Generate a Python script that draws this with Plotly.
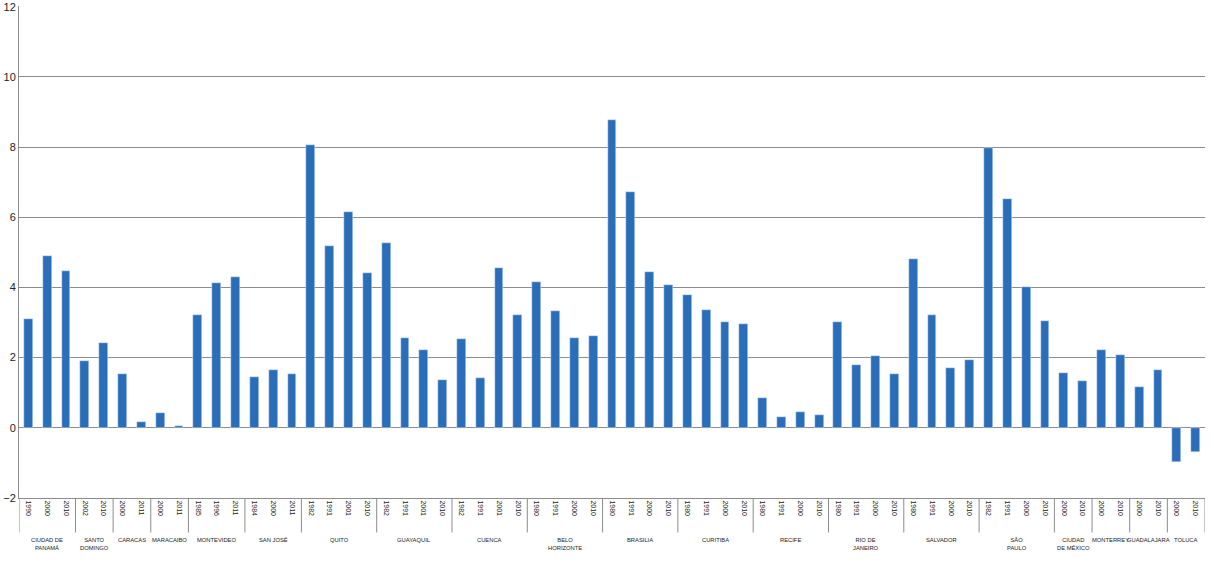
import plotly.graph_objects as go

# cities and their census years
cities = ["CIUDAD DE<br>PANAMÁ", "SANTO<br>DOMINGO", "CARACAS", "MARACAIBO", "MONTEVIDEO",
          "SAN JOSÉ", "QUITO", "GUAYAQUIL", "CUENCA", "BELO<br>HORIZONTE", "BRASILIA",
          "CURITIBA", "RECIFE", "RIO DE<br>JANEIRO", "SALVADOR", "SÃO<br>PAULO",
          "CIUDAD<br>DE MÉXICO", "MONTERREY", "GUADALAJARA", "TOLUCA"]
years = [
    ["1990", "2000", "2010"],
    ["2002", "2010"],
    ["2000", "2011"],
    ["2000", "2011"],
    ["1985", "1996", "2011"],
    ["1984", "2000", "2011"],
    ["1982", "1991", "2001", "2010"],
    ["1982", "1991", "2001", "2010"],
    ["1982", "1991", "2001", "2010"],
    ["1980", "1991", "2000", "2010"],
    ["1980", "1991", "2000", "2010"],
    ["1980", "1991", "2000", "2010"],
    ["1980", "1991", "2000", "2010"],
    ["1980", "1991", "2000", "2010"],
    ["1980", "1991", "2000", "2010"],
    ["1982", "1991", "2000", "2010"],
    ["2000", "2010"],
    ["2000", "2010"],
    ["2000", "2010"],
    ["2000", "2010"],
]
values = [
    [3.10, 4.89, 4.46],
    [1.90, 2.41],
    [1.53, 0.17],
    [0.43, 0.06],
    [3.21, 4.12, 4.29],
    [1.45, 1.65, 1.53],
    [8.07, 5.17, 6.14, 4.40],
    [5.28, 2.56, 2.22, 1.36],
    [2.53, 1.42, 4.55, 3.21],
    [4.15, 3.32, 2.56, 2.61],
    [8.78, 6.73, 4.43, 4.06],
    [3.78, 3.35, 3.01, 2.95],
    [0.85, 0.31, 0.45, 0.37],
    [3.01, 1.79, 2.05, 1.53],
    [4.80, 3.21, 1.70, 1.93],
    [7.98, 6.51, 4.01, 3.04],
    [1.56, 1.34],
    [2.22, 2.07],
    [1.16, 1.65],
    [-0.97, -0.68],
]

xs, ys, labels = [], [], []
bounds = [-0.5]
starts = []
i = 0
for yr, vals in zip(years, values):
    starts.append(i)
    for y_, v in zip(yr, vals):
        xs.append(i)
        ys.append(v)
        labels.append(y_)
        i += 1
    bounds.append(i - 0.5)

fig = go.Figure()
fig.add_trace(go.Bar(x=xs, y=ys, marker_color="#2A6EBA", width=0.47))

# group separators below the axis
for b in bounds:
    fig.add_shape(type="line", xref="x", yref="paper", x0=b, x1=b, y0=0, y1=-0.07,
                  line=dict(color="#8c8c8c", width=1))

# city labels
for c, s, yr in zip(cities, starts, years):
    mid = s + (len(yr) - 1) / 2
    fig.add_annotation(x=mid, y=-0.075, xref="x", yref="paper", text=c, showarrow=False,
                       yanchor="top", font=dict(family="Liberation Sans", size=5.8, color="#222"))

fig.update_layout(
    width=1214, height=564,
    margin=dict(l=19, r=9, t=6, b=66),
    plot_bgcolor="white", paper_bgcolor="white",
    showlegend=False, bargap=0,
)
fig.update_xaxes(
    range=[-0.5, len(xs) - 0.5], tickmode="array", tickvals=xs, ticktext=labels,
    tickangle=90, tickfont=dict(family="Liberation Sans", size=7, color="#222"),
    showgrid=False, showline=True, linecolor="#8c8c8c", ticks="", automargin=False,
)
fig.update_yaxes(
    range=[-2, 12.02], tickvals=[-2, 0, 2, 4, 6, 8, 10, 12], showgrid=True,
    gridcolor="#8c8c8c", gridwidth=1,
    zeroline=True, zerolinecolor="#8c8c8c", zerolinewidth=1,
    showline=True, linecolor="#8c8c8c", automargin=False,
    tickfont=dict(family="Liberation Sans", size=11, color="#222"), ticklen=0,
)

fig.write_html("out.html", config={"displayModeBar": False},
               post_script="document.body.style.margin='0';")
